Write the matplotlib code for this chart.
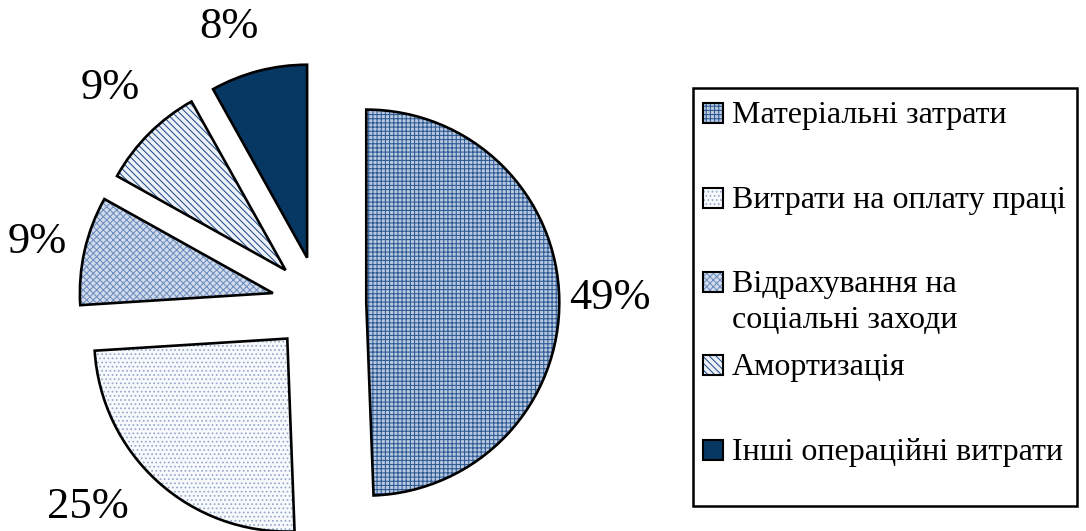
import matplotlib
matplotlib.use("Agg")
import matplotlib.pyplot as plt
from matplotlib.patches import Wedge, Rectangle
import numpy as np

# Data
categories = ["Матеріальні затрати",
              "Витрати на оплату праці",
              "Відрахування на\nсоціальні заходи",
              "Амортизація",
              "Інші операційні витрати"]
shares = [49.4, 24.6, 9.1, 8.8, 8.1]

# Fill styles for each slice: face colour, hatch pattern, hatch colour
faces = ["#b9c8de", "#f7f9fc", "#d3dcea", "#eef2f8", "#073763"]
hatches = ["++++", "....", "xxxxx", "\\\\\\\\\\", ""]
hatch_colors = ["#2b5994", "#93aacd", "#6d8dc0", "#1f4e8c", "#073763"]

# where each percentage sits: distance from slice centre (radii) and turn (deg)
label_dist = [1.26, 1.35, 1.25, 1.31, 1.26]
label_turn = [0, -7.7, 0.5, -1.2, 4.1]

plt.rcParams["font.family"] = ["Liberation Serif", "DejaVu Serif"]
plt.rcParams["hatch.linewidth"] = 0.75

W, H = 1086, 531
R = 193.0            # pie radius in pixels
cx, cy = 319.0, 303.5  # pie centre in pixels (from top-left)

fig = plt.figure(figsize=(W / 100, H / 100), dpi=100)
ax = fig.add_axes([0, 0, 1, 1])

wedges, texts, autotexts = ax.pie(
    shares, startangle=90, counterclock=False, radius=1,
    explode=[0.245] * len(shares),
    autopct=lambda p: f"{p:.0f}%", pctdistance=1.26,
    textprops=dict(fontsize=32, color="black"))

for w, fc, h, hc in zip(wedges, faces, hatches, hatch_colors):
    w.set_facecolor(fc)
    w.set_hatch(h)
    w.set_edgecolor(hc)
    w.set_linewidth(0)
    # black outline drawn on top of the hatching
    ax.add_patch(Wedge(w.center, w.r, w.theta1, w.theta2, fill=False,
                       edgecolor="black", linewidth=1.9, joinstyle="miter"))

for w, t, d, turn in zip(wedges, autotexts, label_dist, label_turn):
    ang = np.deg2rad((w.theta1 + w.theta2) / 2 + turn)
    t.set_position((w.center[0] + d * np.cos(ang), w.center[1] + d * np.sin(ang)))

ax.set_xlim(-cx / R, (W - cx) / R)
ax.set_ylim(-(H - cy) / R, cy / R)
ax.set_aspect("auto")
ax.axis("off")

# legend drawn by hand so the rows match the original spacing
def fx(px):
    return px / W

def fy(py):
    return 1 - py / H

fig.patches.append(Rectangle((fx(693), fy(506)), fx(1077) - fx(693),
                             fy(88) - fy(506), transform=fig.transFigure,
                             fill=False, edgecolor="black", linewidth=1.8))

baselines = [123, 208, 292, 375, 460]
for lab, base, fc, h, hc in zip(categories, baselines, faces, hatches, hatch_colors):
    sq = Rectangle((fx(703), fy(base)), 20 / W, 20 / H, transform=fig.transFigure,
                   facecolor=fc, hatch=h, edgecolor=hc, linewidth=0)
    fig.patches.append(sq)
    fig.patches.append(Rectangle((fx(703), fy(base)), 20 / W, 20 / H,
                                 transform=fig.transFigure, fill=False,
                                 edgecolor="black", linewidth=1.5))
    for i, line in enumerate(lab.split("\n")):
        fig.text(fx(732), fy(base + 36 * i), line, fontsize=23,
                 ha="left", va="baseline")

fig.savefig("out.png", dpi=100)
